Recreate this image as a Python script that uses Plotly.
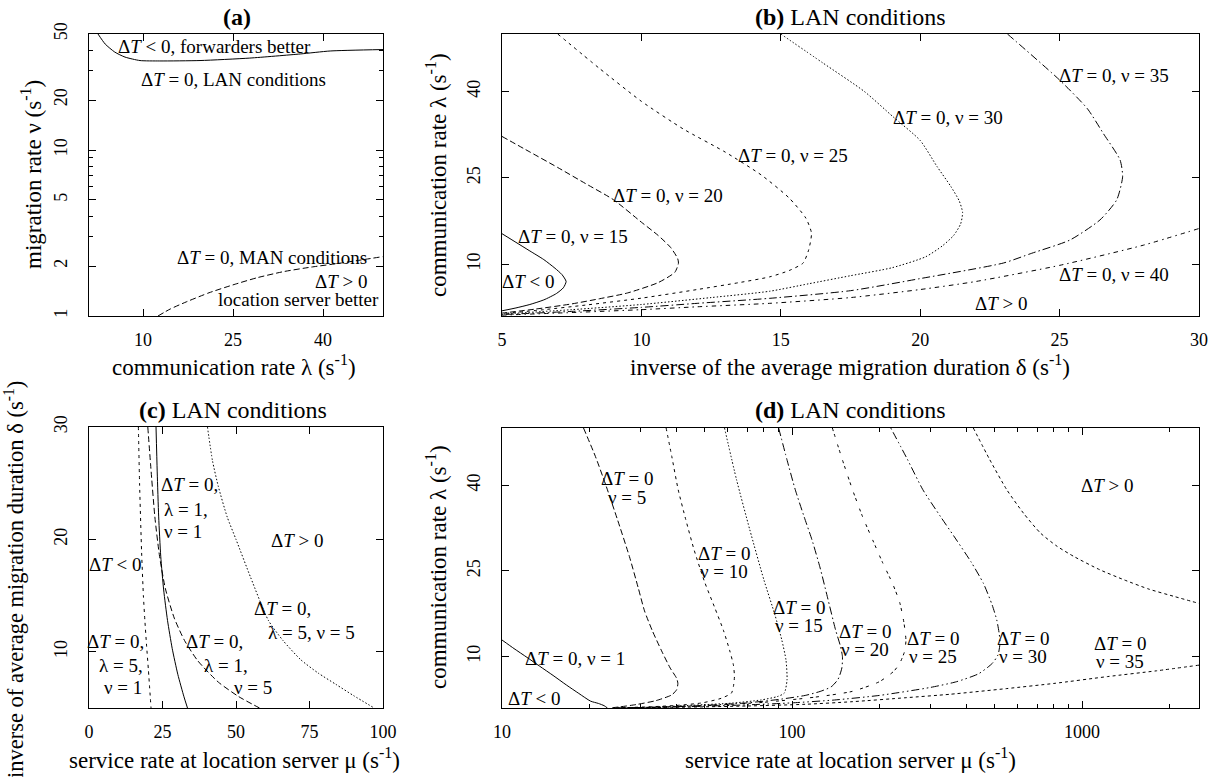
import math
import plotly.graph_objects as go

W, H = 1215, 777
FONT = "Liberation Serif, Times New Roman, Times, serif"
DT = "Δ<i>T</i>"

# ---------------- (a) migration rate nu vs communication rate lambda ----------------
A_LAN_LAMBDA = [2.5, 3.7, 5.3, 7.0, 9.5, 12.8, 19.5, 27.8, 36.2, 41.2, 50.0]
A_LAN_NU = [50.0, 43.5, 38.9, 36.3, 34.6, 34.4, 34.6, 35.8, 37.9, 39.5, 40.3]
A_MAN_LAMBDA = [12.5, 14.5, 17.3, 21.0, 25.0, 29.0, 33.4, 38.0, 42.8, 50.0]
A_MAN_NU = [1.0, 1.1, 1.22, 1.38, 1.54, 1.70, 1.85, 1.97, 2.08, 2.28]
A_XTICKS = [10, 25, 40]
A_YTICKS = [1, 2, 5, 10, 20, 50]
A_YMINOR = [3, 4, 6, 7, 8, 9, 30, 40]

# ---------------- (b) lambda vs delta, LAN ----------------
B_NU15_DELTA = [5.0, 5.5, 6.0, 6.5, 6.9, 7.15, 7.3, 7.2, 6.95, 6.5, 6.0, 5.5, 5.0]
B_NU15_LAMBDA = [15.3, 13.8, 12.3, 10.8, 9.3, 8.2, 7.0, 5.9, 4.9, 3.8, 3.0, 2.4, 1.9]
B_NU20_DELTA = [5.0, 6.0, 7.0, 8.0, 9.0, 10.0, 10.6, 11.05, 11.3, 11.33, 11.2, 10.6, 9.5, 8.5, 7.5, 6.2, 5.0]
B_NU20_LAMBDA = [32.2, 29.5, 26.8, 24.0, 21.2, 17.3, 15.0, 12.9, 11.0, 10.2, 8.6, 6.8, 5.0, 4.0, 3.1, 2.2, 1.5]
B_NU25_DELTA = [7.0, 8.5, 10.0, 11.5, 13.0, 14.3, 15.3, 15.9, 16.1, 16.0, 15.8, 15.3, 14.6, 13.5, 12.0, 10.0, 8.0, 6.5, 5.0]
B_NU25_LAMBDA = [50.0, 44.0, 38.3, 33.5, 29.5, 25.5, 21.5, 18.0, 15.4, 12.5, 10.2, 8.9, 7.8, 6.8, 5.6, 4.1, 2.9, 2.1, 1.4]
B_NU30_DELTA = [15.0, 16.5, 18.0, 19.03, 20.0, 20.6, 21.1, 21.4, 21.52, 21.45, 21.2, 20.8, 20.2, 19.0, 17.5, 16.0, 14.6, 12.5, 10.0, 7.5, 5.0]
B_NU30_LAMBDA = [50.0, 45.0, 40.0, 35.6, 31.5, 27.0, 23.5, 21.0, 19.0, 17.0, 15.0, 13.2, 11.3, 9.4, 8.0, 6.6, 5.3, 4.2, 3.0, 2.1, 1.35]
B_NU35_DELTA = [23.13, 25.0, 26.0, 26.57, 27.17, 27.26, 27.05, 26.45, 25.37, 24.0, 22.98, 20.0, 17.5, 14.6, 12.0, 10.0, 7.5, 5.0]
B_NU35_LAMBDA = [50.0, 42.0, 37.0, 32.7, 28.1, 25.2, 21.2, 17.7, 14.2, 11.9, 10.2, 7.5, 5.4, 4.07, 3.2, 2.5, 1.8, 1.25]
B_NU40_DELTA = [5.0, 7.5, 10.0, 12.0, 14.6, 17.5, 20.0, 22.0, 25.0, 28.0, 30.0]
B_NU40_LAMBDA = [1.15, 1.6, 2.1, 2.6, 3.2, 4.2, 5.6, 7.0, 9.8, 13.3, 16.2]
B_XTICKS = [5, 10, 15, 20, 25, 30]
B_YTICKS = [10, 25, 40]

# ---------------- (c) delta vs mu, LAN ----------------
C_L1N1_MU = [22.8, 23.2, 23.7, 24.4, 25.4, 26.7, 28.3, 30.2, 32.3, 33.5]
C_L1N1_DELTA = [30.0, 26.0, 22.0, 18.5, 15.5, 12.8, 10.3, 8.0, 6.0, 5.0]
C_L1N5_MU = [20.0, 21.0, 22.4, 24.0, 26.0, 29.0, 32.5, 37.0, 44.0, 51.0, 58.0]
C_L1N5_DELTA = [30.0, 26.5, 22.0, 18.5, 15.6, 13.0, 11.0, 9.2, 7.3, 6.0, 5.0]
C_L5N1_MU = [16.8, 17.2, 17.9, 18.5, 19.0, 19.6, 20.2, 21.1]
C_L5N1_DELTA = [30.0, 25.0, 18.8, 15.0, 12.8, 10.5, 8.4, 5.0]
C_L5N5_MU = [40.3, 42.0, 44.0, 47.0, 50.0, 55.0, 61.0, 66.0, 72.0, 78.0, 84.0, 90.0, 97.0]
C_L5N5_DELTA = [30.0, 27.0, 24.7, 22.0, 20.0, 16.6, 12.8, 11.0, 9.3, 8.1, 7.1, 6.1, 5.0]
C_XTICKS = [0, 25, 50, 75, 100]
C_YTICKS = [10, 20, 30]

# ---------------- (d) lambda vs mu (log), LAN ----------------
D_NU1_MU = [10.0, 11.0, 12.2, 13.5, 15.0, 16.7, 18.4, 20.2, 21.5, 22.5, 23.1]
D_NU1_LAMBDA = [12.9, 11.4, 9.85, 8.3, 6.7, 5.0, 3.55, 2.2, 1.8, 1.4, 1.0]
D_NU5_MU = [19.1, 21.0, 22.8, 25.0, 27.5, 29.5, 31.0, 33.0, 35.5, 38.0, 40.0, 40.4, 40.0, 38.5, 34.0, 29.0, 25.5, 23.5]
D_NU5_LAMBDA = [50.0, 45.0, 40.0, 34.0, 27.5, 22.0, 18.0, 14.5, 11.0, 8.0, 6.2, 5.3, 4.2, 3.3, 2.3, 1.6, 1.2, 1.0]
D_NU10_MU = [36.8, 38.5, 40.5, 43.0, 46.0, 50.0, 54.0, 58.0, 61.0, 62.8, 63.3, 62.8, 61.8, 57.0, 49.0, 40.0, 32.0, 26.0, 24.0]
D_NU10_LAMBDA = [50.0, 45.0, 39.2, 34.0, 28.6, 23.0, 18.7, 14.6, 11.0, 8.5, 6.5, 4.8, 3.6, 2.7, 1.9, 1.45, 1.2, 1.05, 1.0]
D_NU15_MU = [58.5, 64.4, 71.5, 80.0, 87.3, 92.2, 95.3, 96.1, 94.0, 89.0, 78.0, 62.0, 46.0, 33.0, 25.0]
D_NU15_LAMBDA = [50.0, 40.9, 32.2, 23.4, 17.3, 12.9, 9.4, 5.9, 3.6, 3.0, 2.4, 1.85, 1.5, 1.15, 1.0]
D_NU20_MU = [89.9, 96.0, 102.6, 110.0, 117.2, 125.0, 132.3, 141.3, 146.5, 149.2, 148.5, 144.0, 136.4, 125.0, 111.0, 90.0, 70.0, 50.0, 35.0, 25.0]
D_NU20_LAMBDA = [50.0, 44.5, 39.2, 34.5, 30.4, 25.5, 20.5, 14.65, 12.0, 10.0, 8.0, 6.0, 4.7, 3.9, 3.2, 2.5, 1.9, 1.45, 1.15, 1.0]
D_NU25_MU = [137.7, 149.0, 161.6, 175.0, 189.7, 205.0, 222.0, 235.0, 243.0, 247.0, 244.0, 236.0, 225.0, 200.0, 161.0, 120.0, 80.0, 50.0, 35.0, 25.0]
D_NU25_LAMBDA = [50.0, 44.5, 39.2, 34.5, 30.4, 26.5, 22.8, 19.5, 16.0, 12.8, 10.8, 9.0, 7.5, 5.6, 3.9, 2.9, 2.0, 1.4, 1.15, 1.0]
D_NU30_MU = [219.0, 250.0, 282.5, 325.0, 369.0, 415.0, 457.0, 490.0, 508.0, 518.0, 521.0, 513.0, 490.0, 440.0, 369.0, 300.0, 200.0, 140.0, 100.0, 70.0, 45.0, 25.0]
D_NU30_LAMBDA = [50.0, 44.5, 39.2, 34.5, 30.4, 26.5, 22.8, 19.0, 16.4, 14.0, 12.3, 10.3, 8.8, 7.0, 5.6, 4.6, 3.2, 2.4, 1.9, 1.55, 1.25, 1.0]
D_NU35_UP_MU = [421.7, 480.0, 550.0, 630.0, 719.0, 820.0, 938.0, 1150.0, 1400.0, 1700.0, 2085.0, 2530.0]
D_NU35_UP_LAMBDA = [50.0, 44.5, 39.2, 35.0, 31.6, 29.3, 27.5, 25.2, 23.4, 21.8, 20.5, 19.3]
D_NU35_LO_MU = [2530.0, 1800.0, 1225.0, 800.0, 550.0, 350.0, 247.0, 161.0, 111.0, 70.0, 40.0, 25.0]
D_NU35_LO_LAMBDA = [8.5, 7.5, 6.5, 5.3, 4.4, 3.4, 2.8, 2.1, 1.65, 1.35, 1.12, 1.0]
D_XTICKS = [10, 100, 1000]
D_XMINOR = [20, 30, 40, 50, 60, 70, 80, 90, 200, 300, 400, 500, 600, 700, 800, 900, 2000]
D_YTICKS = [10, 25, 40]

# ---------------- dash patterns (gnuplot-like line types) ----------------
SOLID = "solid"
DASHED = "6px,3px"
SHORTDASH = "3px,4px"
DOTTED = "1.5px,2px"
DASHDOT = "8px,3px,1.5px,3px"
DASHDOT2 = "4.5px,4px,1.5px,4px"
LT6 = "3px,3px,3px,8px"
LT7 = "1.5px,3px,8px,3px,1.5px,3px"
LT8 = "3px,3px"

fig = go.Figure()


def curve(x, y, xa, ya, dash, width=1.0):
    fig.add_trace(go.Scatter(
        x=x, y=y, xaxis=xa, yaxis=ya, mode="lines",
        line=dict(color="black", width=width, dash=dash, shape="spline", smoothing=0.6),
        showlegend=False, hoverinfo="skip"))


# (a)
curve(A_LAN_LAMBDA, A_LAN_NU, "x", "y", SOLID)
curve(A_MAN_LAMBDA, A_MAN_NU, "x", "y", DASHED)
# (b)
curve(B_NU15_DELTA, B_NU15_LAMBDA, "x2", "y2", SOLID)
curve(B_NU20_DELTA, B_NU20_LAMBDA, "x2", "y2", DASHED)
curve(B_NU25_DELTA, B_NU25_LAMBDA, "x2", "y2", SHORTDASH)
curve(B_NU30_DELTA, B_NU30_LAMBDA, "x2", "y2", DOTTED)
curve(B_NU35_DELTA, B_NU35_LAMBDA, "x2", "y2", DASHDOT)
curve(B_NU40_DELTA, B_NU40_LAMBDA, "x2", "y2", DASHDOT2)
# (c)
curve(C_L1N1_MU, C_L1N1_DELTA, "x3", "y3", SOLID)
curve(C_L1N5_MU, C_L1N5_DELTA, "x3", "y3", DASHED)
curve(C_L5N1_MU, C_L5N1_DELTA, "x3", "y3", SHORTDASH)
curve(C_L5N5_MU, C_L5N5_DELTA, "x3", "y3", DOTTED)
# (d)
curve(D_NU1_MU, D_NU1_LAMBDA, "x4", "y4", SOLID)
curve(D_NU5_MU, D_NU5_LAMBDA, "x4", "y4", DASHED)
curve(D_NU10_MU, D_NU10_LAMBDA, "x4", "y4", SHORTDASH)
curve(D_NU15_MU, D_NU15_LAMBDA, "x4", "y4", DOTTED)
curve(D_NU20_MU, D_NU20_LAMBDA, "x4", "y4", DASHDOT)
curve(D_NU25_MU, D_NU25_LAMBDA, "x4", "y4", LT6)
curve(D_NU30_MU, D_NU30_LAMBDA, "x4", "y4", LT7)
curve(D_NU35_UP_MU, D_NU35_UP_LAMBDA, "x4", "y4", LT8)
curve(D_NU35_LO_MU, D_NU35_LO_LAMBDA, "x4", "y4", LT8)

# ---------------- axes ----------------
PANEL = {
    "a": (89, 383, 34, 316),
    "b": (502, 1199, 34, 316),
    "c": (89, 383, 427, 708),
    "d": (502, 1199, 428, 708),
}


def xdom(p):
    l, r, t, b = PANEL[p]
    return [l / W, r / W]


def ydom(p):
    l, r, t, b = PANEL[p]
    return [1 - b / H, 1 - t / H]


TICKFONT = dict(family=FONT, size=18, color="black")
BASE = dict(showline=True, linecolor="black", linewidth=1, mirror="ticks",
            ticks="inside", ticklen=7, tickwidth=1, tickcolor="black",
            showgrid=False, zeroline=False, tickfont=TICKFONT, automargin=False)
XB = dict(BASE, ticklabelstandoff=7)
YB = dict(BASE, ticklabelstandoff=14, tickangle=-90)
MINOR = dict(ticks="inside", ticklen=4, tickwidth=1, tickcolor="black", showgrid=False)


def tx(vals):
    return [str(v) for v in vals]


fig.update_layout(
    width=W, height=H, margin=dict(l=0, r=0, t=0, b=0, pad=0, autoexpand=False),
    paper_bgcolor="white", plot_bgcolor="white", showlegend=False,
    xaxis=dict(XB, domain=xdom("a"), anchor="y", range=[1, 50],
               tickmode="array", tickvals=A_XTICKS, ticktext=tx(A_XTICKS)),
    yaxis=dict(YB, domain=ydom("a"), anchor="x", type="log", range=[0, math.log10(50)],
               tickmode="array", tickvals=A_YTICKS, ticktext=tx(A_YTICKS),
               minor=dict(MINOR, tickmode="array", tickvals=A_YMINOR)),
    xaxis2=dict(XB, domain=xdom("b"), anchor="y2", range=[5, 30],
                tickmode="array", tickvals=B_XTICKS, ticktext=tx(B_XTICKS)),
    yaxis2=dict(YB, domain=ydom("b"), anchor="x2", range=[1, 50],
                tickmode="array", tickvals=B_YTICKS, ticktext=tx(B_YTICKS)),
    xaxis3=dict(XB, domain=xdom("c"), anchor="y3", range=[0, 100],
                tickmode="array", tickvals=C_XTICKS, ticktext=tx(C_XTICKS)),
    yaxis3=dict(YB, domain=ydom("c"), anchor="x3", range=[5, 30],
                tickmode="array", tickvals=C_YTICKS, ticktext=tx(C_YTICKS)),
    xaxis4=dict(XB, domain=xdom("d"), anchor="y4", type="log", range=[1, math.log10(2530)],
                tickmode="array", tickvals=D_XTICKS, ticktext=tx(D_XTICKS),
                minor=dict(MINOR, tickmode="array", tickvals=D_XMINOR)),
    yaxis4=dict(YB, domain=ydom("d"), anchor="x4", range=[1, 50],
                tickmode="array", tickvals=D_YTICKS, ticktext=tx(D_YTICKS)),
)


# ---------------- text ----------------
def text(t, px, py, size=19, xanchor="center", angle=0):
    fig.add_annotation(text=t, x=px / W, y=1 - py / H, xref="paper", yref="paper",
                       showarrow=False, xanchor=xanchor, yanchor="middle", textangle=angle,
                       borderpad=0, font=dict(family=FONT, size=size, color="black"))


TS = 23
# panel titles
text("<b>(a)</b>", 237, 17, size=24)
text("<b>(b)</b> LAN conditions", 850, 17, size=24)
text("<b>(c)</b> LAN conditions", 233, 410, size=24)
text("<b>(d)</b> LAN conditions", 850, 410, size=24)

# axis titles
text("communication rate λ (s<sup>-1</sup>)", 234, 366, size=TS)
text("inverse of the average migration duration δ (s<sup>-1</sup>)", 850, 366, size=TS)
text("service rate at location server μ (s<sup>-1</sup>)", 234, 758, size=TS)
text("service rate at location server μ (s<sup>-1</sup>)", 850, 758, size=TS)
text("migration rate ν (s<sup>-1</sup>)", 31, 175, size=TS, angle=-90)
text("communication rate λ (s<sup>-1</sup>)", 436, 175, size=TS, angle=-90)
text("inverse of average migration duration δ (s<sup>-1</sup>)", 14, 580, size=22.5, angle=-90)
text("communication rate λ (s<sup>-1</sup>)", 436, 567, size=TS, angle=-90)

# (a) labels
text(DT + " < 0, forwarders better", 214, 47)
text(DT + " = 0, LAN conditions", 233, 80)
text(DT + " = 0, MAN conditions", 272, 257)
text(DT + " > 0", 341, 282)
text("location server better", 298, 299)

# (b) labels
text(DT + " = 0, ν = 15", 573, 236)
text(DT + " < 0", 528, 281)
text(DT + " = 0, ν = 20", 668, 196)
text(DT + " = 0, ν = 25", 793, 155)
text(DT + " = 0, ν = 30", 948, 117)
text(DT + " = 0, ν = 35", 1114, 75)
text(DT + " = 0, ν = 40", 1114, 274)
text(DT + " > 0", 1001, 303)

# (c) labels
text(DT + " = 0,", 160, 484, xanchor="left")
text("λ = 1,", 163, 509, xanchor="left")
text("ν = 1", 163, 531, xanchor="left")
text(DT + " > 0", 297, 540)
text(DT + " < 0", 115, 564)
text(DT + " = 0,", 145, 641, xanchor="right")
text("λ = 5,", 144, 665, xanchor="right")
text("ν = 1", 143, 687, xanchor="right")
text(DT + " = 0,", 185, 641, xanchor="left")
text("λ = 1,", 203, 665, xanchor="left")
text("ν = 5", 233, 687, xanchor="left")
text(DT + " = 0,", 253, 608, xanchor="left")
text("λ = 5, ν = 5", 267, 632, xanchor="left")

# (d) labels
text(DT + " = 0, ν = 1", 575, 658)
text(DT + " < 0", 534, 698)
for cx, top, nu in [(627, 479, 5), (724, 553, 10), (799, 607, 15), (865, 631, 20),
                    (933, 638, 25), (1023, 638, 30), (1120, 643, 35)]:
    text(DT + " = 0", cx, top)
    text("ν = %d" % nu, cx, top + 18)
text(DT + " > 0", 1107, 485)

fig.write_html("out.html", config={"displayModeBar": False},
               post_script="document.body.style.margin='0px';document.body.style.overflow='hidden';")
